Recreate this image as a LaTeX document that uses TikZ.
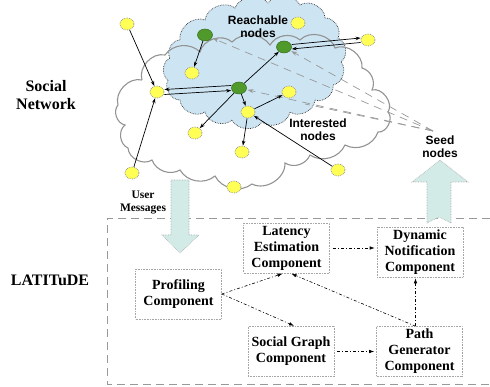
\documentclass[tikz,border=0pt]{standalone}
\usepackage{fontspec}
\setmainfont{Liberation Serif}
\newfontfamily\arialf{Liberation Sans}
\usetikzlibrary{arrows.meta,shapes.geometric,calc}
\definecolor{ycol}{HTML}{FFFF55}
\definecolor{gcol}{HTML}{4F9A2A}
\definecolor{cloudblue}{HTML}{CDE5F3}
\definecolor{arrfill}{HTML}{D3EBE7}
\begin{document}
\begin{tikzpicture}[x=1pt,y=-1pt,
  ynode/.style={ellipse,draw=gray!80,densely dotted,line width=0.8pt,fill=ycol,minimum width=14pt,minimum height=12pt,inner sep=0pt},
  gnode/.style={ellipse,draw=gcol!70!black,line width=0.5pt,fill=gcol,minimum width=15pt,minimum height=12pt,inner sep=0pt},
  net/.style={-{Stealth[length=5pt,width=3.5pt]},line width=0.7pt,black},
  seedl/.style={draw=gray!80,line width=0.7pt,dash pattern=on 8pt off 6pt,-{Stealth[length=6pt,width=4pt,fill=gray!80]}},
  comp/.style={draw=gray!70,densely dotted,line width=0.6pt,fill=white,align=center,minimum width=86pt,minimum height=50pt,inner sep=1pt,font=\fontsize{14}{16}\selectfont\bfseries},
  comparr/.style={-{Latex[length=5pt,width=3.5pt]},dash pattern=on 3pt off 2pt on 1pt off 2pt,line width=0.6pt},
  bigarr/.style={draw=gray!70,densely dotted,line width=0.6pt,fill=arrfill},
  sanslbl/.style={align=center,font=\arialf\fontsize{12}{13}\selectfont\bfseries,inner sep=0pt},
  serlbl/.style={align=center,font=\fontsize{16}{18}\selectfont\bfseries,inner sep=0pt},
  umsg/.style={align=center,font=\fontsize{11.5}{13}\selectfont\bfseries,inner sep=0pt}]
\useasboundingbox (0,0) rectangle (490,387);
% blue cloud (reachable)
\draw[fill=cloudblue,draw=black!80,densely dotted,line width=0.7pt]
 (180,40) to[bend left=60] (205,20) to[bend left=60] (235,8) to[bend left=60] (268,3)
 to[bend left=60] (300,5) to[bend left=60] (325,18) to[bend left=60] (338,38)
 to[bend left=60] (341,62) to[bend left=60] (333,85) to[bend left=60] (315,100)
 to[bend left=60] (290,112) to[bend left=60] (262,122) to[bend left=60] (232,120)
 to[bend left=60] (205,112) to[bend left=60] (180,100) to[bend left=60] (168,80)
 to[bend left=60] (170,58) to[bend left=60] (180,40);
% gray cloud (interested)
\draw[draw=gray!85,line width=1.1pt]
 (142,80) to[bend left=60] (165,55) to[bend left=50] (200,52) to[bend left=60] (232,42)
 to[bend left=50] (270,45) to[bend left=50] (300,40) to[bend left=60] (335,48)
 to[bend left=60] (362,68) to[bend left=50] (372,90) to[bend left=70] (388,112)
 to[bend left=70] (378,132) to[bend left=50] (345,145) to[bend left=50] (310,155)
 to[bend left=50] (285,163) to[bend left=60] (252,184) to[bend left=50] (215,176)
 to[bend left=50] (180,170) to[bend left=50] (152,160) to[bend left=60] (128,148)
 to[bend left=60] (125,125) to[bend left=60] (118,105) to[bend left=60] (142,80);
% nodes
\node[ynode] (y1) at (127,24) {};
\node[ynode] (y2) at (157,92) {};
\node[ynode] (y3) at (192,73) {};
\node[ynode] (y4) at (289,92) {};
\node[ynode] (y5) at (248,112) {};
\node[ynode] (y6) at (195,133) {};
\node[ynode] (y7) at (242,152) {};
\node[ynode] (y8) at (132,173) {};
\node[ynode] (y9) at (338,170) {};
\node[ynode] (y10) at (234,187) {};
\node[ynode] (y11) at (298,23) {};
\node[ynode] (y12) at (368,40) {};
\node[gnode] (g1) at (205,35) {};
\node[gnode] (g2) at (284,47) {};
\node[gnode] (g3) at (239,88) {};
% seed dashed lines
\coordinate (seed) at (433,131);
\coordinate (s4) at (305,104);
\draw[seedl,shorten >=1pt] (seed) -- (g1);
\draw[seedl,shorten >=1pt] (seed) -- (g2);
\draw[seedl,shorten >=1pt] (seed) -- (g3);
\draw[draw=gray!80,line width=0.7pt,dash pattern=on 8pt off 6pt] (seed) -- (s4);
% network edges
\draw[net] (y1) -- (y2);
\draw[net] (y8) -- (y2);
\draw[net] ([yshift=2.5pt]g3.west) -- ([yshift=2.5pt]y2.east);
\draw[net] ([yshift=-2.5pt]y2.east) -- ([yshift=-2.5pt]g3.west);
\draw[net] (g1) -- (y3);
\draw[net] (g3) -- (g2);
\draw[net] (g3) -- (y6);
\draw[net] (g3) -- (y5);
\draw[net] (y5) -- (y4);
\draw[net] (y5) -- (y7);
\draw[net] (y9) -- (y5);
\draw[net] ([yshift=2.5pt]g2.east) -- ([yshift=2pt]y12.west);
\draw[net] ([yshift=-2.5pt]y12.west) -- ([yshift=-2pt]g2.east);
% labels
\node[sanslbl] (reach) at (258,27) {Reachable\\nodes};
\node[sanslbl] (inter) at (318,130) {Interested\\nodes};
\node[sanslbl] (seedt) at (440,147) {Seed\\nodes};
\node[serlbl] (soc) at (46,95) {Social\\Network};
\node[serlbl] (latlbl) at (50,280) {LATITuDE};
\node[umsg] (umsg) at (143,203) {User\\Messages};
% LATITuDE frame
\draw[draw=gray!80,line width=0.8pt,dash pattern=on 8pt off 5pt] (490,218) -- (107,218) -- (107,384) -- (490,384);
% big arrows
\draw[bigarr] (171,180) -- (189,180) -- (189,235) -- (199,235) -- (180,253) -- (162,235) -- (171,235) -- cycle;
\draw[bigarr] (440,160) -- (468,182) -- (451,182) -- (451,223) -- (439,217) -- (427,223) -- (427,182) -- (412,182) -- cycle;
% components
\node[comp] (lat) at (286.5,248) {Latency\\Estimation\\Component};
\node[comp] (dyn) at (420,252) {Dynamic\\Notification\\Component};
\node[comp] (prof) at (178.5,294) {Profiling\\Component};
\node[comp] (sg) at (291,351.5) {Social Graph\\Component};
\node[comp] (pg) at (419.5,351.5) {Path\\Generator\\Component};
\draw[comparr,shorten <=3pt,shorten >=2pt] (lat.east) -- (lat.east -| dyn.west);
\draw[comparr,shorten <=3pt,shorten >=2pt] (sg.east) -- (sg.east -| pg.west);
\draw[comparr,shorten >=1pt] (prof.east) -- ([xshift=-3pt]lat.south);
\draw[comparr,shorten >=1pt] (prof.east) -- ([xshift=4pt]sg.north);
\draw[comparr,shorten >=1pt] ([xshift=-4pt]pg.north) -- ([xshift=4pt]lat.south);
\draw[comparr,shorten >=1pt] ([xshift=-4pt]pg.north) -- ([xshift=-4pt]pg.north |- dyn.south);
\end{tikzpicture}
\end{document}
